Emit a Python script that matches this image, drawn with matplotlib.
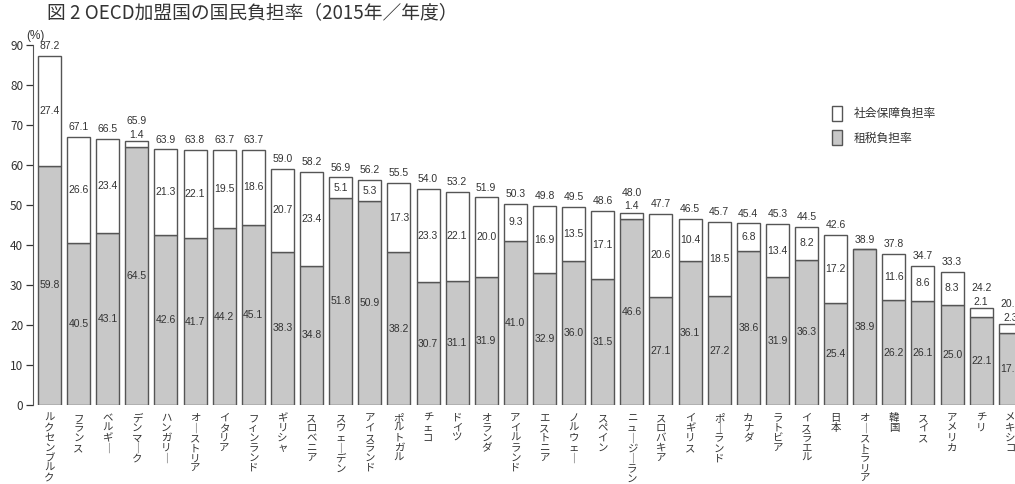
import numpy as np
import matplotlib.pyplot as plt
import matplotlib

matplotlib.rcParams['font.family'] = ['Noto Sans CJK JP', 'DejaVu Sans']

# data (%)
countries = ['ルクセンブルク', 'フランス', 'ベルギー', 'デンマーク', 'ハンガリー', 'オーストリア',
             'イタリア', 'フィンランド', 'ギリシャ', 'スロベニア', 'スウェーデン', 'アイスランド',
             'ポルトガル', 'チェコ', 'ドイツ', 'オランダ', 'アイルランド', 'エストニア',
             'ノルウェー', 'スペイン', 'ニュージーランド', 'スロバキア', 'イギリス', 'ポーランド',
             'カナダ', 'ラトビア', 'イスラエル', '日本', 'オーストラリア', '韓国', 'スイス',
             'アメリカ', 'チリ', 'メキシコ']
tax = [59.8, 40.5, 43.1, 64.5, 42.6, 41.7, 44.2, 45.1, 38.3, 34.8, 51.8, 50.9,
       38.2, 30.7, 31.1, 31.9, 41.0, 32.9, 36.0, 31.5, 46.6, 27.1, 36.1, 27.2,
       38.6, 31.9, 36.3, 25.4, 38.9, 26.2, 26.1, 25.0, 22.1, 17.9]
social = [27.4, 26.6, 23.4, 1.4, 21.3, 22.1, 19.5, 18.6, 20.7, 23.4, 5.1, 5.3,
          17.3, 23.3, 22.1, 20.0, 9.3, 16.9, 13.5, 17.1, 1.4, 20.6, 10.4, 18.5,
          6.8, 13.4, 8.2, 17.2, 0.0, 11.6, 8.6, 8.3, 2.1, 2.3]
total = [87.2, 67.1, 66.5, 65.9, 63.9, 63.8, 63.7, 63.7, 59.0, 58.2, 56.9, 56.2,
         55.5, 54.0, 53.2, 51.9, 50.3, 49.8, 49.5, 48.6, 48.0, 47.7, 46.5, 45.7,
         45.4, 45.3, 44.5, 42.6, 38.9, 37.8, 34.7, 33.3, 24.2, 20.2]

tax = np.array(tax)
social = np.array(social)
x = np.arange(len(countries))

fig = plt.figure(figsize=(10.15, 4.84), dpi=100)
W, H = 1015, 484
ax = fig.add_axes([33 / W, (H - 405) / H, (W - 33) / W, 360 / H])

edge = '#555555'
txt = '#333333'
num_font = ['Liberation Sans', 'DejaVu Sans']
nfs = 7.5

bw = 0.79
b_tax = ax.bar(x, tax, width=bw, color='#c8c8c8', edgecolor=edge, linewidth=1.0, label='租税負担率')
b_soc = ax.bar(x, social, width=bw, bottom=tax, color='white', edgecolor=edge, linewidth=1.0,
               label='社会保障負担率')

for i in x:
    ax.text(i, tax[i] / 2, f'{tax[i]:.1f}', ha='center', va='center', fontsize=nfs,
            color=txt, family=num_font)
    if social[i] == 0:
        ax.text(i, total[i] + 1.0, f'{total[i]:.1f}', ha='center', va='bottom', fontsize=nfs,
                color=txt, family=num_font)
    elif social[i] < 3:
        ax.text(i, total[i] + 0.4, f'{social[i]:.1f}', ha='center', va='bottom', fontsize=nfs,
                color=txt, family=num_font)
        ax.text(i, total[i] + 3.8, f'{total[i]:.1f}', ha='center', va='bottom', fontsize=nfs,
                color=txt, family=num_font)
    else:
        ax.text(i, tax[i] + social[i] / 2, f'{social[i]:.1f}', ha='center', va='center',
                fontsize=nfs, color=txt, family=num_font)
        ax.text(i, total[i] + 1.2, f'{total[i]:.1f}', ha='center', va='bottom', fontsize=nfs,
                color=txt, family=num_font)

# vertical country names
for i, name in enumerate(countries):
    vert = '\n'.join(name.replace('ー', '｜'))
    ax.text(i, -2.0, vert, ha='center', va='top', fontsize=7.5, color=txt,
            linespacing=1.0, clip_on=False)

ax.set_xlim(-0.567, 33.16)
ax.set_ylim(0, 90)
ax.set_yticks(np.arange(0, 91, 10))
ax.tick_params(axis='y', labelsize=8.5, colors=txt, length=5, width=0.9, pad=2)
ax.set_xticks([])
for s in ['top', 'right', 'bottom']:
    ax.spines[s].set_visible(False)
ax.spines['left'].set_color(edge)

ax.text(-0.5, 90.8, '(%)', ha='center', va='bottom', fontsize=8.5, color=txt,
        family=num_font, clip_on=False)

fig.text(47 / W, 1 - 13 / H, '図 2 OECD加盟国の国民負担率（2015年／年度）', ha='left', va='center',
         fontsize=13.5, color=txt)

ax.legend(handles=[b_soc, b_tax], loc='upper left', bbox_to_anchor=(826 / W, 1 - 100 / H),
          bbox_transform=fig.transFigure, frameon=False, fontsize=8.5, handlelength=0.85,
          handleheight=1.6, labelspacing=0.75, handletextpad=1.0, borderpad=0, labelcolor=txt)

plt.savefig('out.png', dpi=100)
